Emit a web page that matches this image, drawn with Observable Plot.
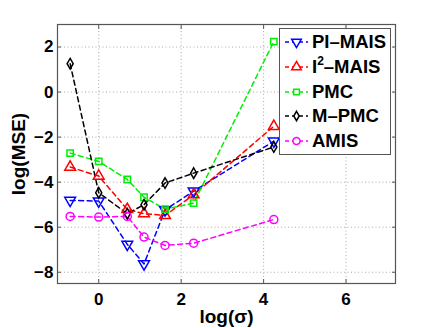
<!DOCTYPE html>
<html>
<head>
<meta charset="utf-8">
<script src="https://cdn.jsdelivr.net/npm/d3@7"></script>
<script src="https://cdn.jsdelivr.net/npm/@observablehq/plot@0.6"></script>
<style>
  html, body { margin: 0; padding: 0; background: #fff; }
  #wrap { position: relative; width: 436px; height: 328px; font-family: "Liberation Sans", Arial, sans-serif; }
  #legend { position: absolute; left: 279px; top: 28px; width: 112px; height: 127px; border: 1px solid #555; background: #fff; box-sizing: border-box; }
  .row { position: absolute; left: 0; height: 24px; display: flex; align-items: center; }
  .row svg { display: block; }
  .row span { font-weight: bold; font-size: 18.5px; color: #000; margin-left: 2px; white-space: nowrap; line-height: 24px; }
  .row sup { font-size: 12px; position: relative; top: -1px; vertical-align: super; line-height: 0; }
</style>
</head>
<body>
<div id="wrap"></div>
<script>
const logSigma = [-0.693, 0, 0.693, 1.099, 1.609, 2.303, 4.248];
const seriesNames = ["PI–MAIS", "I2–MAIS", "PMC", "M–PMC", "AMIS"];
const piMais = [-4.81, -4.84, -6.76, -7.63, -5.23, -4.40, -2.18];
const i2Mais = [-3.33, -3.73, -5.21, -5.40, -5.48, -4.56, -1.52];
const pmc    = [-2.71, -3.08, -3.88, -4.67, -5.20, -4.93, 2.24];
const mpmc   = [1.26, -4.47, -5.40, -5.00, -4.04, -3.60, -2.44];
const amis   = [-5.52, -5.55, -5.52, -6.44, -6.81, -6.71, -5.66];
const xTicks = [0, 2, 4, 6];
const yTicks = [-8, -6, -4, -2, 0, 2];

const styles = [
  {name: seriesNames[0], values: piMais, color: "#0000ff", symbol: "triangle", rotate: 180, r: 4},
  {name: seriesNames[1], values: i2Mais, color: "#ff0000", symbol: "triangle", rotate: 0, r: 4},
  {name: seriesNames[2], values: pmc, color: "#00ee00", symbol: "square", rotate: 0, r: 3.6},
  {name: seriesNames[3], values: mpmc, color: "#000000", symbol: "diamond", rotate: 0, r: 3.2},
  {name: seriesNames[4], values: amis, color: "#ff00ff", symbol: "circle", rotate: 0, r: 4}
];

const marks = [
  Plot.gridX(xTicks, {stroke: "#aaa", strokeOpacity: 1, strokeDasharray: "1,2.5"}),
  Plot.gridY(yTicks, {stroke: "#aaa", strokeOpacity: 1, strokeDasharray: "1,2.5"}),
  Plot.axisX(xTicks, {anchor: "bottom", tickSize: -4, tickPadding: 13, fontSize: 17, fontWeight: "bold", label: null, stroke: "#555"}),
  Plot.axisX(xTicks, {anchor: "top", tickSize: -4, tickFormat: () => "", label: null, stroke: "#555"}),
  Plot.axisY(yTicks, {anchor: "left", tickSize: -4, tickPadding: 8, fontSize: 17, fontWeight: "bold", label: null, stroke: "#555", tickFormat: d => d < 0 ? "−" + Math.abs(d) : String(d)}),
  Plot.axisY(yTicks, {anchor: "right", tickSize: -4, tickFormat: () => "", label: null, stroke: "#555"}),
  Plot.frame({stroke: "#555", strokeWidth: 1.2})
];

for (const s of styles) {
  const data = logSigma.map((x, i) => ({x, y: s.values[i]}));
  marks.push(Plot.line(data, {x: "x", y: "y", stroke: s.color, strokeWidth: 1.5, strokeDasharray: "5,3.5"}));
}
for (const s of styles) {
  const data = logSigma.map((x, i) => ({x, y: s.values[i]}));
  marks.push(Plot.dot(data, {x: "x", y: "y", stroke: s.color, fill: "none", strokeWidth: 1.5, symbol: s.symbol, r: s.r, rotate: s.rotate}));
}

marks.push(Plot.text(["log(σ)"], {frameAnchor: "bottom", dy: 33, lineAnchor: "middle", fontSize: 19, fontWeight: "bold", fill: "#000"}));
marks.push(Plot.text(["log(MSE)"], {frameAnchor: "left", dx: -39, rotate: -90, textAnchor: "middle", lineAnchor: "middle", fontSize: 19, fontWeight: "bold", fill: "#000"}));

const chart = Plot.plot({
  width: 436,
  height: 328,
  marginLeft: 57,
  marginRight: 41,
  marginTop: 24,
  marginBottom: 45,
  style: {fontFamily: "Liberation Sans, Arial, sans-serif", background: "#fff", color: "#000"},
  x: {domain: [-1, 7.2], axis: null},
  y: {domain: [-8.5, 3], axis: null},
  marks
});
const wrap = document.getElementById("wrap");
wrap.appendChild(chart);

// legend
const legend = document.createElement("div");
legend.id = "legend";
styles.forEach((s, i) => {
  const row = document.createElement("div");
  row.className = "row";
  row.style.top = (1 + i * 24.8) + "px";
  const svg = d3.create("svg").attr("width", 30).attr("height", 24);
  svg.append("line").attr("x1", 5).attr("x2", 28).attr("y1", 12).attr("y2", 12)
    .attr("stroke", s.color).attr("stroke-width", 1.5).attr("stroke-dasharray", "4,3");
  const sym = {triangle: d3.symbolTriangle, square: d3.symbolSquare, diamond: d3.symbolDiamond, circle: d3.symbolCircle}[s.symbol];
  svg.append("path").attr("d", d3.symbol(sym, Math.PI * s.r * s.r * 0.8)())
    .attr("transform", `translate(16.5,12) rotate(${s.rotate})`)
    .attr("fill", "#fff").attr("stroke", s.color).attr("stroke-width", 1.5);
  row.appendChild(svg.node());
  const label = document.createElement("span");
  if (s.name.startsWith("I2")) {
    label.innerHTML = "I<sup>2</sup>–MAIS";
  } else {
    label.textContent = s.name;
  }
  row.appendChild(label);
  legend.appendChild(row);
});
wrap.appendChild(legend);
</script>
</body>
</html>
